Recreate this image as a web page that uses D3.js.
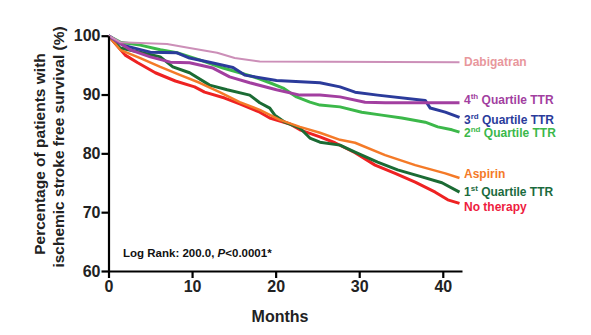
<!DOCTYPE html>
<html>
<head>
<meta charset="utf-8">
<script src="https://cdn.jsdelivr.net/npm/d3@7"></script>
<style>
  body { margin: 0; background: #fff; }
  text { font-family: "Liberation Sans", Arial, sans-serif; }
</style>
</head>
<body>
<div id="chart"></div>
<script>
// survival curves, [month, % free of ischemic stroke]
var dabigatran = [[0,100],[1.4,98.9],[7,98.6],[9.7,97.9],[13,97.1],[15.1,96.2],[18.1,95.6],[42,95.5]];
var q4 = [[0,100],[2.6,97.6],[5,96.4],[7.4,95.5],[9.7,95.4],[12.5,94.5],[14.5,93],[16.9,92],[20.1,90.8],[22.9,89.9],[25.3,89.9],[27.7,89.6],[30.7,88.7],[33.1,88.6],[42,88.6]];
var q3 = [[0,100],[1.7,98.4],[5,97.2],[8.2,97.1],[9.7,96.2],[12.1,95.5],[14.9,94.6],[16.3,93.3],[20.1,92.4],[25.3,92],[27.7,91.3],[29.5,90.4],[32.2,89.9],[37.9,89],[38.5,87.7],[40.3,87],[42,86.1]];
var q2 = [[0,100],[1.4,98.9],[3.8,98.4],[6.2,97.6],[8.2,97.1],[10.9,95.9],[13.7,94.5],[15.7,93.7],[17.8,92.8],[19.3,92],[20.9,91.1],[22.5,89.6],[24.1,88.7],[25.3,88.2],[27.7,87.9],[30.3,87],[32.7,86.5],[35.1,86],[37.9,85.3],[39.4,84.5],[41.1,84],[42,83.6]];
var aspirin = [[0,100],[1.4,97.6],[3.8,96.2],[6.2,94.7],[8.6,93.3],[10.9,92],[13.3,90.4],[15.7,88.7],[18.1,87.4],[20.5,85.7],[22.9,84.5],[25.3,83.5],[27.7,82.3],[29.5,81.8],[33.1,79.7],[36.7,78],[40.3,76.6],[42,75.8]];
var q1 = [[0,100],[1.4,97.9],[3.8,97.2],[6.2,96.4],[7.7,94.7],[9.7,93.7],[12.1,91.6],[14.2,90.8],[16.9,89.9],[18.1,88.6],[19.3,87.7],[19.9,86.5],[21.1,85.3],[22.9,84.3],[24.1,82.6],[25.3,81.9],[27.7,81.4],[29.5,80.2],[32.2,78.5],[34.6,77.2],[37.5,76],[39.9,75],[42,73.4]];
var noTherapy = [[0,100],[2,96.7],[3.5,95.4],[5.6,93.7],[8,92.3],[10.3,91.3],[11.5,90.4],[13.9,89.4],[15.7,88.4],[18.1,87],[19.3,86],[21.7,85],[22.9,84],[25.3,82.8],[27.1,81.8],[29.5,80.1],[31.9,78],[34.3,76.6],[36.7,75.1],[39.1,73.4],[40.6,72.1],[42,71.5]];

var xTicks = [0, 10, 20, 30, 40];
var yTicks = [60, 70, 80, 90, 100];

var series = [
  { name: "Dabigatran", sup: "", rest: "", data: dabigatran, line: "#cc8fb8", label: "#e8979c", w: 2 },
  { name: "4", sup: "th", rest: " Quartile TTR", data: q4, line: "#a23fa0", label: "#a23fa0", w: 3 },
  { name: "3", sup: "rd", rest: " Quartile TTR", data: q3, line: "#2b3b9b", label: "#2b3b9b", w: 3 },
  { name: "2", sup: "nd", rest: " Quartile TTR", data: q2, line: "#3cb84a", label: "#3cb84a", w: 3 },
  { name: "Aspirin", sup: "", rest: "", data: aspirin, line: "#f47a28", label: "#f47a28", w: 2.5 },
  { name: "1", sup: "st", rest: " Quartile TTR", data: q1, line: "#1b6b34", label: "#1b6b3e", w: 3 },
  { name: "No therapy", sup: "", rest: "", data: noTherapy, line: "#ee2222", label: "#ee1c40", w: 3 }
];
var labelY = [66, 104, 124, 137, 178, 196, 211];

var svg = d3.select("#chart").append("svg")
  .attr("width", 591)
  .attr("height", 335);

var x = d3.scaleLinear().domain([0, 42.3]).range([108.5, 462]);
var y = d3.scaleLinear().domain([60, 100]).range([271, 35.7]);

var line = d3.line()
  .x(d => x(d[0]))
  .y(d => y(d[1]));

// draw bottom-most first so the red ends up on top like the original
series.slice().reverse().forEach(function(s) {
  svg.append("path")
    .datum(s.data)
    .attr("d", line)
    .attr("fill", "none")
    .attr("stroke", s.line)
    .attr("stroke-width", s.w)
    .attr("stroke-linejoin", "round");
});

// axes
var xAxis = svg.append("g")
  .attr("transform", "translate(0," + y(60) + ")")
  .call(d3.axisBottom(x).tickValues(xTicks).tickSize(7).tickSizeOuter(0).tickPadding(3));
var yAxis = svg.append("g")
  .attr("transform", "translate(" + x(0) + ",0)")
  .call(d3.axisLeft(y).tickValues(yTicks).tickSize(7).tickSizeOuter(0).tickPadding(1));

[xAxis, yAxis].forEach(function(g) {
  g.select(".domain").attr("stroke", "#000").attr("stroke-width", 2.2);
  g.selectAll(".tick line").attr("stroke", "#000").attr("stroke-width", 2.2);
  g.selectAll(".tick text")
    .attr("fill", "#222")
    .style("font-size", "16px")
    .style("font-weight", "bold")
    .style("font-family", "'Liberation Sans', Arial, sans-serif");
});

// series labels
series.forEach(function(s, i) {
  var t = svg.append("text")
    .attr("x", 464)
    .attr("y", labelY[i])
    .attr("fill", s.label)
    .style("font-size", "12px")
    .style("font-weight", "bold");
  t.append("tspan").text(s.name);
  if (s.sup) {
    t.append("tspan").attr("dy", -5).style("font-size", "8px").text(s.sup);
    t.append("tspan").attr("dy", 5).text(s.rest);
  }
});

// axis titles
svg.append("text")
  .attr("transform", "translate(45,154) rotate(-90)")
  .attr("text-anchor", "middle")
  .attr("fill", "#222")
  .style("font-size", "15.5px")
  .style("font-weight", "bold")
  .text("Percentage of patients with");
svg.append("text")
  .attr("transform", "translate(64,147) rotate(-90)")
  .attr("text-anchor", "middle")
  .attr("fill", "#222")
  .style("font-size", "15.5px")
  .style("font-weight", "bold")
  .text("ischemic stroke free survival (%)");

svg.append("text")
  .attr("x", 280)
  .attr("y", 322)
  .attr("text-anchor", "middle")
  .attr("fill", "#222")
  .style("font-size", "16px")
  .style("font-weight", "bold")
  .text("Months");

var lr = svg.append("text")
  .attr("x", 123)
  .attr("y", 257)
  .attr("fill", "#111")
  .style("font-size", "11.5px")
  .style("font-weight", "bold");
lr.append("tspan").text("Log Rank: 200.0, ");
lr.append("tspan").style("font-style", "italic").text("P");
lr.append("tspan").text("<0.0001*");
</script>
</body>
</html>
